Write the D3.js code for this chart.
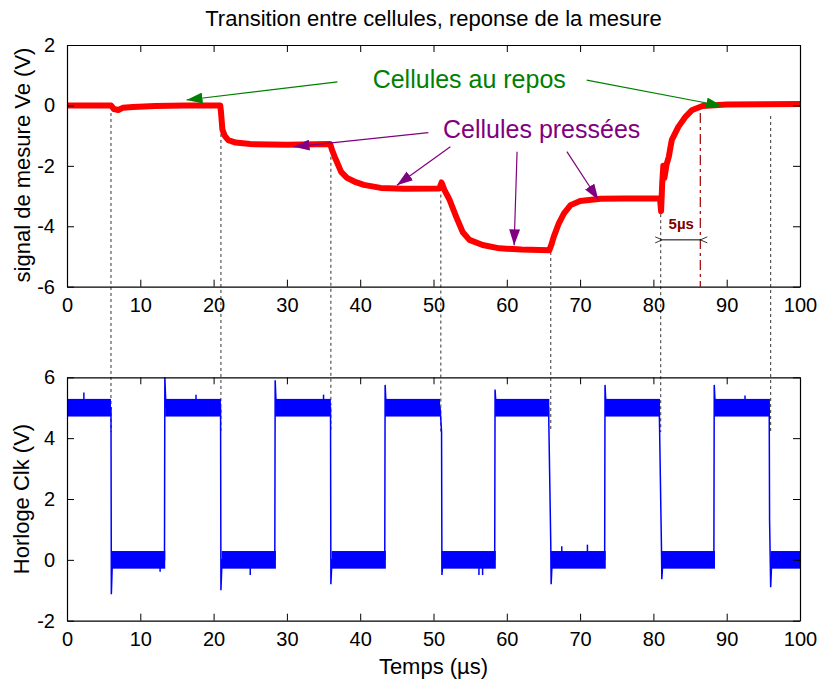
<!DOCTYPE html>
<html>
<head>
<meta charset="utf-8">
<script src="https://cdn.jsdelivr.net/npm/d3@7"></script>
<style>
  body { margin: 0; background: #fff; }
  svg { font-family: "Liberation Sans", Arial, sans-serif; }
</style>
</head>
<body>
<div id="plot"></div>
<script>
// tick values
var xTicks = [0, 10, 20, 30, 40, 50, 60, 70, 80, 90, 100];
var veTicks = [2, 0, -2, -4, -6];
var clkTicks = [6, 4, 2, 0, -2];

// measured signal Ve (time in us, volts)
var veSignal = [
  [0, 0.0], [6, 0.0], [6.4, -0.12], [7, -0.15], [7.6, -0.08], [9, -0.05], [12, -0.02], [16, 0.0], [20.9, 0.0],
  [21.0, -0.2], [21.2, -0.8], [21.5, -1.0], [22.0, -1.15], [23, -1.23], [25, -1.28], [30, -1.3], [35.9, -1.28],
  [36.2, -1.5], [36.6, -1.75], [37.4, -2.2], [38.2, -2.4], [39.2, -2.52], [40.5, -2.63], [42.8, -2.73], [46, -2.76], [50.8, -2.75],
  [51.1, -2.55], [51.5, -2.8], [52.2, -3.13], [53.1, -3.69], [54, -4.2], [54.9, -4.45], [56.7, -4.62], [59, -4.73], [62, -4.77], [65.8, -4.79],
  [66.1, -4.6], [66.4, -4.35], [67.1, -3.9], [67.8, -3.57], [68.7, -3.3], [70, -3.16], [72.8, -3.09], [76, -3.08], [80.9, -3.08],
  [81.05, -3.5], [81.2, -2.6], [81.35, -2.0], [81.5, -2.4], [81.8, -1.95], [82.1, -1.7], [82.5, -1.15], [83.4, -0.71],
  [84.4, -0.37], [85.3, -0.15], [86.7, -0.02], [90, 0.03], [95, 0.04], [100, 0.05]
];

// clock signal (edges with overshoot)
var clkSignal = [
  [0, 5], [6.0, 5], [6.05, -1.13], [6.2, 0], [13.3, 0], [13.35, 6.0], [13.5, 5],
  [20.95, 5], [21.0, -1.0], [21.15, 0], [28.35, 0], [28.4, 5.9], [28.55, 5],
  [35.95, 5], [36.0, -0.8], [36.15, 0], [43.35, 0], [43.4, 5.75], [43.55, 5],
  [50.9, 5], [51.1, 4.2], [51.15, -0.5], [51.3, 0], [58.35, 0], [58.4, 5.6], [58.55, 5],
  [65.7, 5], [66.0, 0.5], [66.05, -0.8], [66.2, 0], [73.35, 0], [73.4, 5.75], [73.55, 5],
  [80.8, 5], [81.1, 0.4], [81.15, -0.64], [81.3, 0], [88.25, 0], [88.3, 5.75], [88.45, 5],
  [95.8, 5], [95.85, 1.3], [96.0, -0.9], [96.15, 0], [100, 0]
];

// noisy plateaus of the clock: [start, end, level]
var clkPlateaus = [
  [0, 6.0, 5], [6.1, 13.4, 0], [13.4, 21.0, 5], [21.1, 28.5, 0], [28.4, 36.0, 5], [36.1, 43.5, 0],
  [43.4, 50.9, 5], [51.1, 58.5, 0], [58.4, 65.8, 5], [66.0, 73.5, 0], [73.4, 80.9, 5], [81.1, 88.4, 0],
  [88.3, 95.9, 5], [96.0, 100, 0]
];
var clkNoise = 0.29;
var clkGlitches = [[2.3, 5.5], [17.6, 5.43], [35.0, 5.43], [12.7, -0.39], [25.0, -0.5], [56.2, -0.5], [56.7, -0.5], [71.0, 0.5], [67.5, 0.45], [92.5, 5.4]];

// dashed guide lines at clock falling edges
var transitions = [6, 21, 36, 51, 66, 81, 96];
var transitionTop = [-0.25, -0.15, -1.7, -2.95, -4.85, -3.6, -0.35];
var transitionBottom = 4.2;
var markerTime = 86.4;

// annotations in data units [t0, v0, t1, v1]
var greenArrows = [[36.9, 0.78, 16.3, 0.18], [70.9, 0.84, 89.4, -0.02]];
var purpleArrows = [[49.3, -0.90, 30.9, -1.37], [52.3, -1.37, 45.0, -2.64], [61.4, -1.53, 61.0, -4.63], [68.2, -1.53, 72.5, -3.13]];

var svg = d3.select("#plot").append("svg")
  .attr("width", 822)
  .attr("height", 682);

var x = d3.scaleLinear().domain([0, 100]).range([67, 800]);
var yVe = d3.scaleLinear().domain([-6, 2]).range([286.7, 45]);
var yClk = d3.scaleLinear().domain([-2, 6]).range([620.7, 377.3]);

var defs = svg.append("defs");
function headMarker(id, color) {
  defs.append("marker")
    .attr("id", id)
    .attr("viewBox", "0 0 16 11")
    .attr("refX", 16).attr("refY", 5.5)
    .attr("markerWidth", 16).attr("markerHeight", 11)
    .attr("markerUnits", "userSpaceOnUse")
    .attr("orient", "auto")
    .append("path").attr("d", "M0,0 L16,5.5 L0,11 Z").attr("fill", color);
}
headMarker("headGreen", "#008000");
headMarker("headPurple", "#800080");

defs.append("marker").attr("id", "chevStart")
  .attr("viewBox", "-1 -1 9 8").attr("refX", 7).attr("refY", 3)
  .attr("markerWidth", 9).attr("markerHeight", 8).attr("markerUnits", "userSpaceOnUse").attr("orient", "auto")
  .append("path").attr("d", "M0,0 L7,3 L0,6").attr("fill", "none").attr("stroke", "#000").attr("stroke-width", 0.8);
defs.append("marker").attr("id", "chevEnd")
  .attr("viewBox", "-1 -1 9 8").attr("refX", 0).attr("refY", 3)
  .attr("markerWidth", 9).attr("markerHeight", 8).attr("markerUnits", "userSpaceOnUse").attr("orient", "auto")
  .append("path").attr("d", "M7,0 L0,3 L7,6").attr("fill", "none").attr("stroke", "#000").attr("stroke-width", 0.8);

// dashed lines linking both plots
svg.selectAll(".guide")
  .data(transitions)
  .join("line")
  .attr("class", "guide")
  .attr("x1", d => x(d)).attr("x2", d => x(d))
  .attr("y1", (d, i) => yVe(transitionTop[i]))
  .attr("y2", yClk(transitionBottom))
  .attr("stroke", "#333")
  .attr("stroke-width", 1)
  .attr("stroke-dasharray", "3,3");

// red dash-dot marker line
svg.append("line")
  .attr("x1", x(markerTime)).attr("x2", x(markerTime))
  .attr("y1", yVe(-0.25)).attr("y2", yVe(-6))
  .attr("stroke", "#a00000")
  .attr("stroke-width", 1.2)
  .attr("stroke-dasharray", "10,4,3,4");

// top trace
var veLine = d3.line().x(d => x(d[0])).y(d => yVe(d[1]));
svg.append("path")
  .datum(veSignal)
  .attr("d", veLine)
  .attr("fill", "none")
  .attr("stroke", "#ff0000")
  .attr("stroke-width", 6)
  .attr("stroke-linejoin", "round");

// bottom trace: noise bands, glitches, then the clock line
svg.selectAll(".plateau")
  .data(clkPlateaus)
  .join("rect")
  .attr("class", "plateau")
  .attr("x", d => x(d[0]))
  .attr("width", d => x(d[1]) - x(d[0]))
  .attr("y", d => yClk(d[2] + clkNoise))
  .attr("height", d => yClk(d[2] - clkNoise) - yClk(d[2] + clkNoise))
  .attr("fill", "#0000ff");

svg.selectAll(".glitch")
  .data(clkGlitches)
  .join("line")
  .attr("class", "glitch")
  .attr("x1", d => x(d[0])).attr("x2", d => x(d[0]))
  .attr("y1", d => yClk(d[1] > 2.5 ? 5 : 0))
  .attr("y2", d => yClk(d[1]))
  .attr("stroke", "#0000ff")
  .attr("stroke-width", 1.5);

var clkLine = d3.line().x(d => x(d[0])).y(d => yClk(d[1]));
svg.append("path")
  .datum(clkSignal)
  .attr("d", clkLine)
  .attr("fill", "none")
  .attr("stroke", "#0000ff")
  .attr("stroke-width", 1.5);

// axes frames with inward ticks
function frame(y, ticks) {
  var g = svg.append("g").attr("font-family", "Liberation Sans, Arial, sans-serif");
  var fmt = d => String(d);
  g.append("g").attr("transform", `translate(0,${y.range()[0]})`)
    .call(d3.axisBottom(x).tickValues(xTicks).tickSize(-7).tickSizeOuter(0).tickPadding(11).tickFormat(fmt));
  g.append("g").attr("transform", `translate(0,${y.range()[1]})`)
    .call(d3.axisTop(x).tickValues(xTicks).tickSize(-7).tickSizeOuter(0).tickFormat(""));
  g.append("g").attr("transform", `translate(${x.range()[0]},0)`)
    .call(d3.axisLeft(y).tickValues(ticks).tickSize(-7).tickSizeOuter(0).tickPadding(12).tickFormat(fmt));
  g.append("g").attr("transform", `translate(${x.range()[1]},0)`)
    .call(d3.axisRight(y).tickValues(ticks).tickSize(-7).tickSizeOuter(0).tickFormat(""));
  g.selectAll("path.domain").attr("stroke", "#000").attr("stroke-width", 1.2);
  g.selectAll(".tick line").attr("stroke", "#000").attr("stroke-width", 1);
  g.selectAll(".tick text").attr("fill", "#000").attr("font-size", 20);
}
frame(yVe, veTicks);
frame(yClk, clkTicks);

// annotations
svg.selectAll(".garrow")
  .data(greenArrows)
  .join("line")
  .attr("x1", d => x(d[0])).attr("y1", d => yVe(d[1]))
  .attr("x2", d => x(d[2])).attr("y2", d => yVe(d[3]))
  .attr("stroke", "#008000").attr("stroke-width", 1.2)
  .attr("marker-end", "url(#headGreen)");

svg.selectAll(".parrow")
  .data(purpleArrows)
  .join("line")
  .attr("x1", d => x(d[0])).attr("y1", d => yVe(d[1]))
  .attr("x2", d => x(d[2])).attr("y2", d => yVe(d[3]))
  .attr("stroke", "#800080").attr("stroke-width", 1.2)
  .attr("marker-end", "url(#headPurple)");

svg.append("text")
  .attr("x", x(41.7)).attr("y", yVe(0.58))
  .attr("font-size", 25).attr("fill", "#008000")
  .text("Cellules au repos");

svg.append("text")
  .attr("x", x(51.3)).attr("y", yVe(-1.08))
  .attr("font-size", 25).attr("fill", "#800080")
  .text("Cellules pressées");

// 5 us dimension
svg.append("line")
  .attr("x1", x(81.2)).attr("x2", x(markerTime))
  .attr("y1", yVe(-4.45)).attr("y2", yVe(-4.45))
  .attr("stroke", "#000").attr("stroke-width", 1)
  .attr("marker-start", "url(#chevStart)")
  .attr("marker-end", "url(#chevEnd)");

svg.append("text")
  .attr("x", x(83.8)).attr("y", yVe(-4.1))
  .attr("text-anchor", "middle")
  .attr("font-size", 15).attr("font-weight", "bold").attr("fill", "#800000")
  .text("5µs");

// titles
svg.append("text")
  .attr("x", 433.5).attr("y", 26)
  .attr("text-anchor", "middle").attr("font-size", 22)
  .text("Transition entre cellules, reponse de la mesure");

svg.append("text")
  .attr("transform", "translate(30,165) rotate(-90)")
  .attr("text-anchor", "middle").attr("font-size", 22)
  .text("signal de mesure Ve (V)");

svg.append("text")
  .attr("transform", "translate(29,499) rotate(-90)")
  .attr("text-anchor", "middle").attr("font-size", 22)
  .text("Horloge Clk (V)");

svg.append("text")
  .attr("x", 433.5).attr("y", 674)
  .attr("text-anchor", "middle").attr("font-size", 22)
  .text("Temps (µs)");
</script>
</body>
</html>
